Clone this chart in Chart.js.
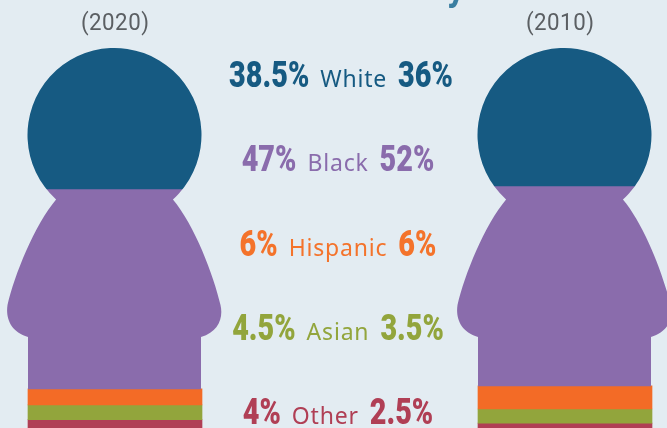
<!DOCTYPE html>
<html>
<head>
<meta charset="utf-8">
<style>
  html, body { margin: 0; padding: 0; background: #e3ecf2; overflow: hidden; }
  canvas { display: block; }
</style>
<script src="https://cdn.jsdelivr.net/npm/chart.js@4"></script>
</head>
<body>
<canvas id="figuresChart" width="667" height="428"></canvas>
<script>
const years = ['(2020)', '(2010)'];
const races = ['White', 'Black', 'Hispanic', 'Asian', 'Other'];

// Printed shares, in percent
const shares2020 = [38.5, 47, 6, 4.5, 4];
const shares2010 = [36, 52, 6, 3.5, 2.5];

// Band heights as drawn, in percent of the visible figure (the source art is not to scale)
const bands2020 = [37.1, 52.6, 4.2, 3.9, 2.2];
const bands2010 = [36.3, 52.6, 6.1, 3.7, 1.3];

const colors = ['#165a82', '#8a6cac', '#f36b26', '#92a53c', '#b03f55'];
const textColors = ['#165a82', '#8a6cac', '#f4732b', '#92a53c', '#b03f55'];

const HEAD_R = 87;

// Head and body outline, traced around the centre of a bar
function addPerson(ctx, cx, top) {
    const cy = top + HEAD_R;
    const neck = Math.atan2(64, 58);
    ctx.moveTo(cx - 58, cy + 64);
    ctx.arc(cx, cy, HEAD_R, Math.PI - neck, 2 * Math.PI + neck);
    ctx.bezierCurveTo(cx + 80, cy + 90, cx + 99, cy + 140, cx + 106, cy + 170);
    ctx.bezierCurveTo(cx + 109, cy + 183, cx + 104, cy + 197, cx + 86.5, cy + 202);
    ctx.lineTo(cx + 86.5, 500);
    ctx.lineTo(cx - 86.5, 500);
    ctx.lineTo(cx - 86.5, cy + 202);
    ctx.bezierCurveTo(cx - 104, cy + 197, cx - 109, cy + 183, cx - 107, cy + 170);
    ctx.bezierCurveTo(cx - 100, cy + 140, cx - 80, cy + 90, cx - 58, cy + 64);
    ctx.closePath();
}

const personClip = {
    id: 'personClip',
    beforeDatasetDraw(chart, args) {
        if (args.index > 1) return; // the thin stripes are not clipped
        const ctx = chart.ctx;
        ctx.save();
        ctx.beginPath();
        args.meta.data.forEach(bar => addPerson(ctx, bar.x - 0.5, chart.chartArea.top));
        ctx.clip();
    },
    afterDatasetDraw(chart, args) {
        if (args.index > 1) return;
        chart.ctx.restore();
    }
};

function squeezedWidth(ctx, text, font, squeeze, spacing) {
    ctx.font = font;
    ctx.letterSpacing = spacing;
    const w = ctx.measureText(text).width * squeeze;
    ctx.letterSpacing = '0px';
    return w;
}

function drawSqueezed(ctx, text, x, y, font, squeeze, color, spacing) {
    ctx.save();
    ctx.translate(x, y);
    ctx.scale(squeeze, 1);
    ctx.font = font;
    ctx.letterSpacing = spacing;
    ctx.fillStyle = color;
    ctx.textAlign = 'left';
    ctx.textBaseline = 'alphabetic';
    ctx.fillText(text, 0, 0);
    ctx.restore();
}

const textLabels = {
    id: 'textLabels',
    afterDraw(chart) {
        const ctx = chart.ctx;
        const numFont = '900 36px Roboto';
        const nameFont = '400 23px "Noto Sans"';
        const numSqueeze = 0.8;
        const nameSqueeze = 1;
        const gap = 11;

        // Tail of the cut-off headline
        ctx.save();
        ctx.font = '700 36px Roboto';
        ctx.fillStyle = '#3a7ea1';
        ctx.textAlign = 'center';
        ctx.textBaseline = 'alphabetic';
        ctx.fillText('y', 456, 0);
        ctx.restore();

        // Year captions
        drawSqueezed(ctx, years[0], 81, 30, '400 24px Roboto', 0.93, '#5b5f63', '0.5px');
        drawSqueezed(ctx, years[1], 526, 30, '400 24px Roboto', 0.93, '#5b5f63', '0.5px');

        // One row per group: share, name, share
        races.forEach((race, i) => {
            const left = shares2020[i] + '%';
            const right = shares2010[i] + '%';
            const leftW = squeezedWidth(ctx, left, numFont, numSqueeze, '0px');
            const nameW = squeezedWidth(ctx, race, nameFont, nameSqueeze, '0.8px');
            const rightW = squeezedWidth(ctx, right, numFont, numSqueeze, '0px');
            const total = leftW + nameW + rightW + gap * 2;
            const y = 87 + i * 84.3;
            let x = (i === 0 ? 341 : 338) - total / 2;
            drawSqueezed(ctx, left, x, y, numFont, numSqueeze, textColors[i], '0px');
            x += leftW + gap;
            drawSqueezed(ctx, race, x, y, nameFont, nameSqueeze, textColors[i], '0.8px');
            x += nameW + gap;
            drawSqueezed(ctx, right, x, y, numFont, numSqueeze, textColors[i], '0px');
        });
    }
};

// Head and body bars are wider than the outline so the arms fill in; stripes keep the leg width
const datasets = races.map((race, i) => ({
    label: race,
    data: [bands2020[i], bands2010[i]],
    backgroundColor: colors[i],
    borderWidth: 0,
    barThickness: i < 2 ? 230 : 174,
    clip: false
}));

new Chart(document.getElementById('figuresChart').getContext('2d'), {
    type: 'bar',
    data: { labels: years, datasets: datasets },
    options: {
        responsive: false,
        animation: false,
        layout: { padding: { left: 115, right: 102, top: 48, bottom: 0 } },
        scales: {
            x: { display: false, stacked: true, offset: false },
            y: { display: false, stacked: true, reverse: true, min: 0, max: 100 }
        },
        plugins: {
            legend: { display: false },
            tooltip: { enabled: false }
        }
    },
    plugins: [personClip, textLabels]
});
</script>
</body>
</html>
